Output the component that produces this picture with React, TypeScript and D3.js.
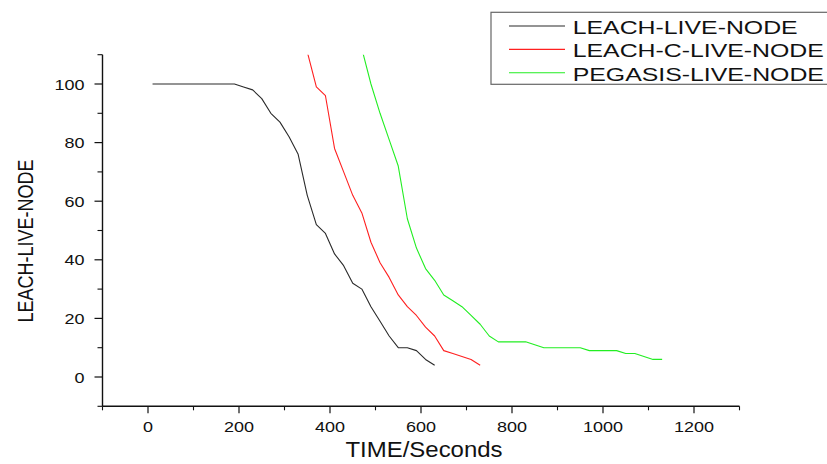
import React from "react";
import * as d3 from "d3";

const leachX = [10, 30, 50, 70, 90, 110, 130, 150, 170, 190, 210, 230, 250, 270, 290, 310, 330, 350, 370, 390, 410, 430, 450, 470, 490, 510, 530, 550, 570, 590, 610, 630];
const leachY = [100, 100, 100, 100, 100, 100, 100, 100, 100, 100, 99, 98, 95, 90, 87, 82, 76, 62, 52, 49, 42, 38, 32, 30, 24, 19, 14, 10, 10, 9, 6, 4];

const leachCX = [350, 370, 390, 410, 430, 450, 470, 490, 510, 530, 550, 570, 590, 610, 630, 650, 670, 690, 710, 730];
const leachCY = [111, 99, 96, 78, 70, 62, 56, 46, 39, 34, 28, 24, 21, 17, 14, 9, 8, 7, 6, 4];

const pegasisX = [470, 490, 510, 530, 550, 570, 590, 610, 630, 650, 670, 690, 710, 730, 750, 770, 790, 810, 830, 850, 870, 890, 910, 930, 950, 970, 990, 1010, 1030, 1050, 1070, 1090, 1110, 1130];
const pegasisY = [112, 100, 90, 81, 72, 54, 44, 37, 33, 28, 26, 24, 21, 18, 14, 12, 12, 12, 12, 11, 10, 10, 10, 10, 10, 9, 9, 9, 9, 8, 8, 7, 6, 6];

const seriesNames = ["LEACH-LIVE-NODE", "LEACH-C-LIVE-NODE", "PEGASIS-LIVE-NODE"];
const seriesColors = ["#2a2a2a", "#ff2020", "#22ee22"];

const xMajorTicks = [0, 200, 400, 600, 800, 1000, 1200];
const xMinorTicks = [-100, 100, 300, 500, 700, 900, 1100, 1300];
const yMajorTicks = [0, 20, 40, 60, 80, 100];
const yMinorTicks = [-10, 10, 30, 50, 70, 90, 110];

const xTitle = "TIME/Seconds";
const yTitle = "LEACH-LIVE-NODE";

const W = 827;
const H = 464;
const FONT = "'Liberation Sans', Arial, Helvetica, sans-serif";

export default function App() {
  const x = d3.scaleLinear().domain([-100, 1300]).range([102.5, 739.5]);
  const y = d3.scaleLinear().domain([-10, 110]).range([406.3, 54.7]);

  const line = d3
    .line<[number, number]>()
    .x((d) => x(d[0]))
    .y((d) => y(d[1]));

  const series = [
    { xs: leachX, ys: leachY },
    { xs: leachCX, ys: leachCY },
    { xs: pegasisX, ys: pegasisY },
  ].map((s, i) => ({
    name: seriesNames[i],
    color: seriesColors[i],
    pts: s.xs.map((v, j) => [v, s.ys[j]] as [number, number]),
  }));

  const [x0, x1] = x.range();
  const [yb, yt] = y.range();
  const axisColor = "#111";

  return (
    <svg
      width={W}
      height={H}
      viewBox={`0 0 ${W} ${H}`}
      style={{ position: "absolute", left: 0, top: 0, background: "#fff" }}
    >
      <defs>
        <clipPath id="plotClip">
          <rect x={x0} y={yt} width={x1 - x0} height={yb - yt} />
        </clipPath>
      </defs>
      <rect x={0} y={0} width={W} height={H} fill="#fff" />

      {/* lines */}
      <g clipPath="url(#plotClip)">
        {series.map((s) => (
          <path
            key={s.name}
            d={line(s.pts) || ""}
            fill="none"
            stroke={s.color}
            strokeWidth={1.1}
            strokeLinejoin="round"
          />
        ))}
      </g>

      {/* y axis */}
      <line x1={x0} x2={x0} y1={yt} y2={yb} stroke={axisColor} strokeWidth={1.4} />
      {yMajorTicks.map((t) => (
        <g key={"ym" + t}>
          <line x1={x0 - 8} x2={x0} y1={y(t)} y2={y(t)} stroke={axisColor} strokeWidth={1.2} />
          <g transform={`translate(${x0 - 18},${y(t) + 5.5}) scale(1.2,1)`}>
            <text textAnchor="end" fontFamily={FONT} fontSize={15} fill="#111">
              {t}
            </text>
          </g>
        </g>
      ))}
      {yMinorTicks.map((t) => (
        <line key={"yn" + t} x1={x0 - 5} x2={x0} y1={y(t)} y2={y(t)} stroke={axisColor} strokeWidth={1.1} />
      ))}

      {/* x axis */}
      <line x1={x0} x2={x1} y1={yb} y2={yb} stroke={axisColor} strokeWidth={1.4} />
      {xMajorTicks.map((t) => (
        <g key={"xm" + t}>
          <line x1={x(t)} x2={x(t)} y1={yb} y2={yb + 7} stroke={axisColor} strokeWidth={1.2} />
          <g transform={`translate(${x(t)},432) scale(1.2,1)`}>
            <text textAnchor="middle" fontFamily={FONT} fontSize={15} fill="#111">
              {t}
            </text>
          </g>
        </g>
      ))}
      {xMinorTicks.map((t) => (
        <line key={"xn" + t} x1={x(t)} x2={x(t)} y1={yb} y2={yb + 4} stroke={axisColor} strokeWidth={1.1} />
      ))}

      {/* axis titles */}
      <g transform={`translate(${(x0 + x1) / 2 + 3},457) scale(1.09,1)`}>
        <text textAnchor="middle" fontFamily={FONT} fontSize={22} fill="#111">
          {xTitle}
        </text>
      </g>
      <g transform={`translate(33,241) scale(1.24,1) rotate(-90)`}>
        <text textAnchor="middle" fontFamily={FONT} fontSize={18} fill="#111">
          {yTitle}
        </text>
      </g>

      {/* legend */}
      <rect x={491} y={12.3} width={345} height={72} fill="#fff" stroke="#666" strokeWidth={1.2} />
      {series.map((s, i) => {
        const ly = 26 + i * 23.4;
        return (
          <g key={"lg" + s.name}>
            <line x1={509} x2={565} y1={ly} y2={ly} stroke={s.color} strokeWidth={1.1} />
            <g transform={`translate(572.7,${ly + 8}) scale(1.38,1)`}>
              <text fontFamily={FONT} fontSize={18} fill="#111">
                {s.name}
              </text>
            </g>
          </g>
        );
      })}
    </svg>
  );
}
